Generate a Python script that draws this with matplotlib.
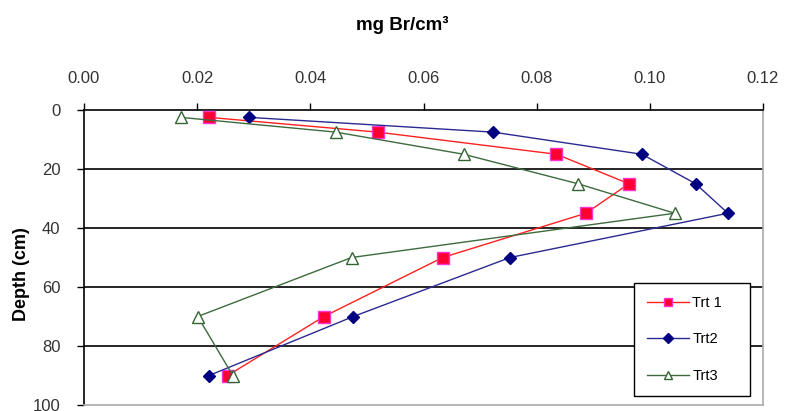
import matplotlib.pyplot as plt
import numpy as np

plt.rcParams['font.family'] = ['Liberation Sans', 'DejaVu Sans']

depth = [2.5, 7.5, 15, 25, 35, 50, 70, 90]
trt1 = [0.0221, 0.0519, 0.0835, 0.0963, 0.0887, 0.0634, 0.0424, 0.0254]
trt2 = [0.0292, 0.0723, 0.0986, 0.1081, 0.1138, 0.0753, 0.0476, 0.0221]
trt3 = [0.0171, 0.0445, 0.0671, 0.0873, 0.1044, 0.0473, 0.0201, 0.0263]

x_ticks = [0.00, 0.02, 0.04, 0.06, 0.08, 0.10, 0.12]
y_ticks = [0, 20, 40, 60, 80, 100]

fig = plt.figure(figsize=(7.86, 4.11), dpi=100)
ax = fig.add_axes([84/786, 1-405/411, (763-84)/786, (405-110)/411])

# horizontal grid lines
for yv in y_ticks[1:-1]:
    ax.axhline(yv, color="black", lw=1.2, zorder=1)

ax.plot(trt1, depth, color="#ff2020", lw=1, marker="s", ms=8,
        mfc="#ff0033", mec="#ff33cc", mew=1, label="Trt 1", zorder=3)
ax.plot(trt2, depth, color="#2a2a90", lw=1, marker="D", ms=6.5,
        mfc="#000080", mec="#000080", label="Trt2", zorder=3)
ax.plot(trt3, depth, color="#3d6b3d", lw=1, marker="^", ms=8,
        mfc="white", mec="#336633", mew=1, label="Trt3", zorder=4)

ax.set_xlim(0, 0.12)
ax.set_ylim(100, 0)
ax.set_xticks(x_ticks)
ax.set_xticklabels(["%.2f" % v for v in x_ticks])
ax.set_yticks(y_ticks)
ax.xaxis.tick_top()
ax.tick_params(axis="both", direction="out", length=5, width=1,
               labelsize=12, labelcolor="#333333")
ax.tick_params(axis="x", pad=12)
ax.tick_params(axis="y", pad=12)

for s in ["top", "left"]:
    ax.spines[s].set_color("black")
    ax.spines[s].set_linewidth(1.2)
for s in ["right", "bottom"]:
    ax.spines[s].set_color("#aaaaaa")
    ax.spines[s].set_linewidth(1.2)

leg = ax.legend(loc="lower left", bbox_to_anchor=((634-84)/679, (405-396)/295,
                (750-634)/679, (396-287)/295), mode="expand",
                fontsize=10.5, frameon=True, fancybox=False, framealpha=1,
                edgecolor="black", handlelength=2.9, handletextpad=0.2,
                labelspacing=1.55, borderaxespad=0, borderpad=0.9,
                markerscale=0.8)
leg.get_frame().set_linewidth(1)

fig.text(402/786, 1-25/411, "mg Br/cm³", ha="center", va="center",
         fontsize=13.5, fontweight="bold")
fig.text(22/786, 1-274/411, "Depth (cm)", ha="center", va="center",
         rotation=90, fontsize=13, fontweight="bold")

fig.savefig("out.png", dpi=100)
